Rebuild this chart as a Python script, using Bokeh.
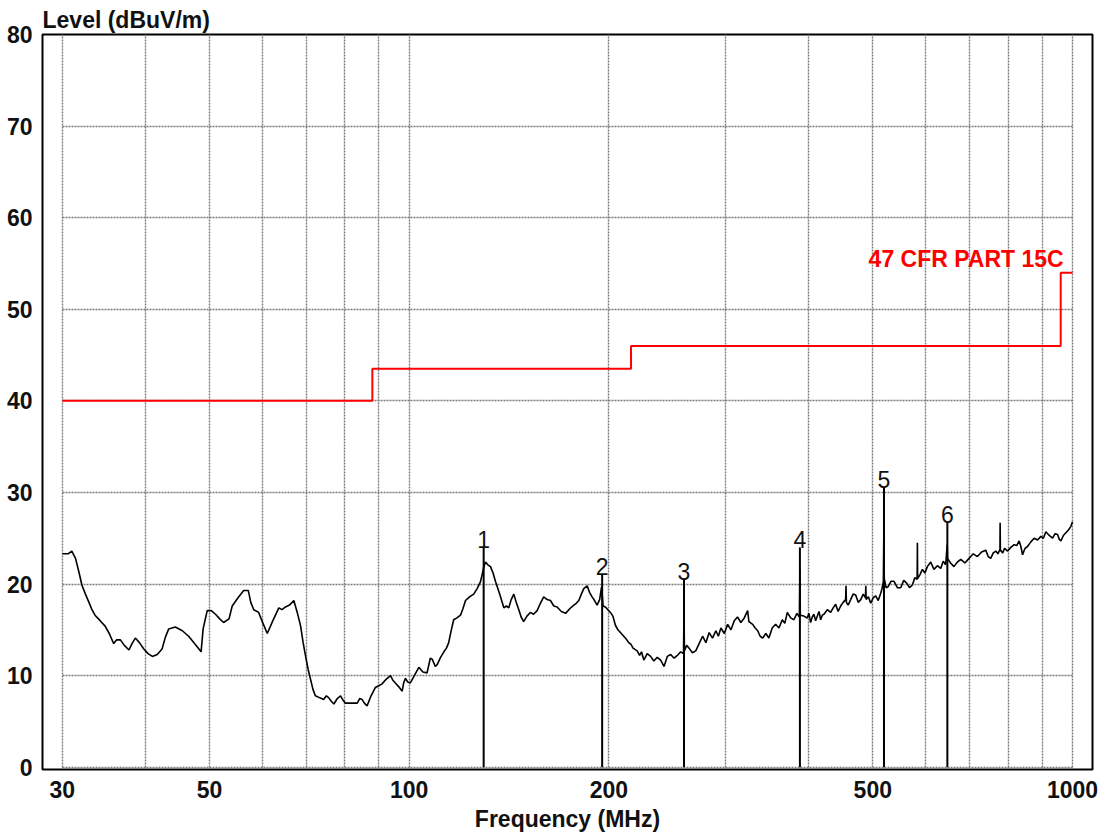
from bokeh.plotting import figure
from bokeh.models import Range1d, FixedTicker, PrintfTickFormatter
from bokeh.core.properties import value
from bokeh.embed import file_html
from bokeh.resources import INLINE

# ---------------- data ----------------
trace_freq = [
    30.0, 30.6, 31.0, 31.4, 31.8, 32.1, 32.5, 32.9, 33.2, 33.6, 34.2, 34.8, 35.3, 35.85, 36.2, 36.7,
    37.2, 37.8, 38.2, 38.65, 39.2, 39.8, 40.4, 41.0, 41.7, 42.4, 42.9, 43.4, 44.4, 45.5, 46.5, 47.6,
    48.56, 48.9, 49.6, 50.3, 51.05, 51.8, 52.5, 53.5, 54.1, 55.2, 56.3, 57.2, 57.7, 58.3, 59.3, 60.2,
    61.1, 62.3, 63.6, 64.3, 65.1, 66.0, 67.0, 67.8, 68.6, 69.2, 69.8, 70.4, 71.0, 71.6, 72.2, 73.2,
    74.3, 75.0, 75.6, 76.3, 77.0, 77.9, 78.8, 79.5, 80.1, 81.8, 83.5, 84.2, 84.9, 85.6, 86.4, 87.6,
    88.9, 90.0, 91.0, 92.3, 93.7, 94.5, 95.3, 96.4, 97.6, 98.1, 98.7, 99.5, 100.4, 101.8, 103.4, 104.9,
    106.4, 107.6, 108.3, 109.5, 110.2, 111.5, 112.8, 113.8, 114.7, 115.6, 116.7, 118.0, 119.5, 120.5,
    121.6, 123.3, 125.1, 126.6, 128.0, 128.8, 129.5, 130.3, 131.4, 132.6, 133.8, 134.9, 136.9, 138.9,
    140.1, 141.3, 142.5, 143.8, 145.0, 146.3, 147.5, 148.8, 150.5, 152.3, 154.0, 155.9, 157.7, 159.5,
    161.4, 163.3, 165.2, 167.1, 169.6, 172.1, 174.6, 177.1, 178.6, 180.2, 181.8, 183.3, 185.5, 187.0,
    188.7, 190.3, 192.0, 193.7, 195.0, 195.4, 196.0, 197.6, 199.3, 201.1, 202.8, 204.6, 206.4, 208.2,
    210.6, 212.4, 214.3, 216.0, 217.5, 220.7, 222.5, 224.0, 225.8, 228.5, 231.2, 233.8, 236.6, 239.4,
    242.2, 245.0, 247.9, 250.8, 253.7, 256.6, 259.2, 259.6, 260.0, 262.0, 264.2, 267.3, 270.4, 273.6,
    276.9, 280.1, 283.3, 286.6, 290.0, 292.5, 295.1, 298.6, 302.1, 305.6, 309.1, 312.6, 316.3, 320.0,
    323.8, 325.2, 329.5, 332.4, 335.3, 338.2, 341.2, 344.9, 348.6, 352.6, 356.8, 361.0, 365.2, 368.4,
    371.6, 375.9, 380.2, 384.2, 387.6, 388.2, 388.8, 393.6, 398.3, 400.5, 402.9, 405.2, 407.5, 410.0,
    412.4, 414.8, 417.2, 419.6, 422.0, 427.0, 431.9, 435.7, 439.5, 443.3, 447.2, 451.1, 455.0, 455.6,
    456.2, 459.0, 463.0, 467.0, 471.1, 475.3, 479.5, 483.7, 487.4, 488.0, 488.6, 492.4, 496.4, 500.7,
    505.1, 509.5, 513.9, 516.3, 518.7, 519.5, 520.3, 523.6, 527.1, 532.6, 538.2, 544.5, 550.9, 556.6,
    562.4, 568.0, 573.6, 578.6, 583.2, 583.7, 584.2, 588.8, 593.9, 599.1, 604.3, 611.3, 618.3, 625.6,
    632.9, 638.4, 643.9, 647.4, 648.0, 655.0, 662.7, 670.6, 678.5, 688.4, 698.3, 708.6, 718.9, 729.4,
    740.0, 746.4, 752.9, 759.6, 766.4, 772.0, 777.5, 777.9, 778.6, 785.0, 790.0, 798.2, 807.4, 816.7,
    824.0, 831.0, 836.0, 840.9, 848.2, 855.6, 865.5, 875.5, 885.8, 896.1, 903.9, 911.8, 922.5, 933.3,
    941.4, 949.6, 955.1, 960.6, 969.0, 977.4, 986.0, 994.6, 1000.0,
]
trace_level = [
    23.3, 23.3, 23.6, 22.8, 21.2, 19.9, 18.9, 18.0, 17.3, 16.6, 16.0, 15.4, 14.6, 13.5, 13.9, 13.9,
    13.3, 12.8, 13.5, 14.1, 13.6, 12.9, 12.4, 12.1, 12.3, 12.9, 14.2, 15.1, 15.3, 14.9, 14.3, 13.4,
    12.6, 15.1, 17.1, 17.1, 16.7, 16.2, 15.8, 16.2, 17.6, 18.5, 19.3, 19.3, 18.0, 17.2, 16.9, 15.7,
    14.6, 16.0, 17.4, 17.2, 17.5, 17.7, 18.2, 16.9, 15.4, 13.6, 12.1, 10.7, 9.6, 8.5, 7.8, 7.6,
    7.4, 7.8, 7.6, 7.2, 6.9, 7.5, 7.8, 7.3, 7.0, 7.0, 7.0, 7.5, 7.4, 7.0, 6.7, 7.8,
    8.7, 8.9, 9.1, 9.6, 10.0, 9.5, 9.2, 8.8, 8.3, 9.2, 9.7, 9.3, 9.2, 10.0, 10.9, 10.4,
    10.3, 11.9, 11.8, 11.0, 11.2, 12.0, 12.6, 13.0, 13.6, 14.8, 16.1, 16.3, 16.6, 17.3,
    18.2, 18.6, 18.9, 19.5, 20.2, 21.0, 21.8, 22.4, 22.1, 21.9, 21.2, 20.3, 18.9, 17.4,
    17.6, 17.4, 18.3, 18.9, 18.0, 17.2, 16.4, 15.9, 16.5, 16.9, 16.7, 17.1, 17.9, 18.6,
    18.3, 18.2, 17.6, 17.5, 17.0, 16.8, 17.3, 17.7, 17.9, 18.2, 18.9, 19.5, 19.8, 19.1,
    18.6, 18.2, 17.7, 18.3, 19.7, 19.0, 17.6, 17.5, 17.2, 16.9, 16.5, 15.5, 15.0, 14.7,
    14.3, 14.0, 13.6, 13.4, 13.0, 12.7, 12.2, 12.6, 11.7, 12.4, 12.1, 11.6, 12.0, 11.7,
    11.0, 12.1, 12.3, 11.9, 12.2, 12.6, 12.4, 17.6, 12.7, 13.3, 13.0, 12.5, 12.7, 13.5,
    14.3, 13.6, 14.7, 14.1, 14.9, 14.3, 15.2, 14.6, 15.6, 15.0, 16.0, 16.4, 15.8, 16.3,
    17.1, 15.9, 15.6, 15.2, 14.9, 14.3, 14.1, 14.6, 14.1, 15.2, 15.6, 15.2, 16.1, 15.7,
    16.9, 16.3, 16.1, 16.8, 16.4, 21.6, 16.6, 16.5, 16.3, 16.8, 15.8, 16.4, 16.7, 16.0,
    16.5, 17.0, 16.1, 16.6, 16.7, 17.2, 16.9, 17.4, 17.8, 17.0, 17.6, 18.0, 18.3, 19.8,
    18.0, 17.7, 18.3, 18.9, 18.8, 18.0, 18.3, 18.9, 18.5, 19.8, 18.3, 18.6, 17.9, 18.5,
    18.7, 18.2, 19.0, 19.5, 20.3, 25.5, 20.6, 19.6, 19.7, 20.3, 20.3, 19.6, 19.6, 20.4,
    20.1, 19.6, 19.9, 20.7, 20.5, 24.5, 20.6, 21.0, 21.6, 21.2, 21.9, 22.4, 21.6, 22.0,
    21.7, 22.5, 22.1, 24.3, 22.8, 22.3, 21.9, 22.4, 22.7, 22.3, 22.8, 23.3, 23.0, 23.5,
    23.7, 23.0, 22.8, 23.4, 23.6, 23.3, 23.8, 26.7, 23.7, 23.4, 23.9, 23.6, 24.0, 24.3,
    24.2, 24.7, 24.1, 23.2, 23.9, 24.1, 24.6, 25.0, 24.8, 25.2, 25.0, 25.7, 25.3, 25.0,
    25.5, 25.4, 24.9, 24.7, 25.3, 25.6, 25.9, 26.3, 26.8,
]

limit_freq = [30.0, 88.0, 216.0, 960.0, 1000.0]
limit_level = [40.0, 43.5, 46.0, 54.0, 54.0]
limit_name = "47 CFR PART 15C"

marker_freq = [129.5, 195.4, 259.6, 388.2, 519.8, 647.7]
marker_level = [24.0, 21.0, 20.5, 24.0, 30.5, 26.7]
marker_label = ["1", "2", "3", "4", "5", "6"]
marker_base = [0.0] * len(marker_freq)

x_label_ticks = [30, 50, 100, 200, 500, 1000]
x_grid_ticks = [30, 40, 50, 60, 70, 80, 90, 100, 200, 300, 400, 500, 600, 700, 800, 900, 1000]
y_ticks = [0, 10, 20, 30, 40, 50, 60, 70, 80]

FONT = "Liberation Sans"

# ---------------- figure ----------------
p = figure(
    width=1106, height=834,
    x_axis_type="log",
    x_range=Range1d(28.0, 1072.0),
    y_range=Range1d(-0.25, 80.0),
    output_backend="svg", toolbar_location=None,
    min_border_left=42, min_border_right=14, min_border_top=34, min_border_bottom=64,
    title="Level (dBuV/m)",
)
p.background_fill_color = "white"
p.border_fill_color = "white"
p.outline_line_color = "black"
p.outline_line_width = 2

p.title.align = "left"
p.title.text_font = FONT
p.title.text_font_size = "23px"
p.title.text_font_style = "bold"
p.title.text_color = "#111111"
p.title.standoff = 3
p.title.offset = 0

# grids
p.xgrid.ticker = FixedTicker(ticks=x_grid_ticks)
p.ygrid.ticker = FixedTicker(ticks=y_ticks)
for g in (p.xgrid, p.ygrid):
    g.grid_line_color = "#7a7a7a"
    g.grid_line_width = 1.4
    g.grid_line_dash = "2 1"
p.xgrid.bounds = (x_grid_ticks[0], x_grid_ticks[-1])
p.ygrid.bounds = (y_ticks[0], y_ticks[-1])
p.xgrid.cross_bounds = (y_ticks[0], y_ticks[-1])
p.ygrid.cross_bounds = (x_grid_ticks[0], x_grid_ticks[-1])

# axes
for ax in (p.xaxis, p.yaxis):
    ax.axis_line_color = None
    ax.major_tick_line_color = None
    ax.minor_tick_line_color = None
    ax.major_label_text_font = FONT
    ax.major_label_text_font_size = "23px"
    ax.major_label_text_font_style = "bold"
    ax.major_label_text_color = "#111111"

p.xaxis.ticker = FixedTicker(ticks=x_label_ticks)
p.xaxis.formatter = PrintfTickFormatter(format="%d")
p.xaxis.major_label_standoff = 5
p.xaxis.axis_label = "Frequency (MHz)"
p.xaxis.axis_label_text_font = FONT
p.xaxis.axis_label_text_font_size = "23px"
p.xaxis.axis_label_text_font_style = "bold"
p.xaxis.axis_label_text_color = "#111111"
p.xaxis.axis_label_standoff = 5

p.yaxis.ticker = FixedTicker(ticks=y_ticks)
p.yaxis.major_label_standoff = 4

# limit line
p.step(limit_freq, limit_level, mode="after", line_color="#ff0000", line_width=2)
p.text(x=[limit_freq[-2]], y=[limit_level[-2]], text=[limit_name],
       text_align="right", text_baseline="middle", x_offset=3, y_offset=-14,
       text_font=value(FONT), text_font_size="23px", text_font_style="bold",
       text_color="#ff0000")

# measured trace
p.line(trace_freq, trace_level, line_color="black", line_width=1.6)

# markers
p.segment(x0=marker_freq, y0=marker_base, x1=marker_freq, y1=marker_level,
          line_color="black", line_width=2)
p.text(x=marker_freq, y=marker_level, text=marker_label,
       text_align="center", text_baseline="middle", y_offset=-8,
       text_font=value(FONT), text_font_size="23px", text_color="#111111")

open("out.html", "w").write(file_html(p, INLINE))
